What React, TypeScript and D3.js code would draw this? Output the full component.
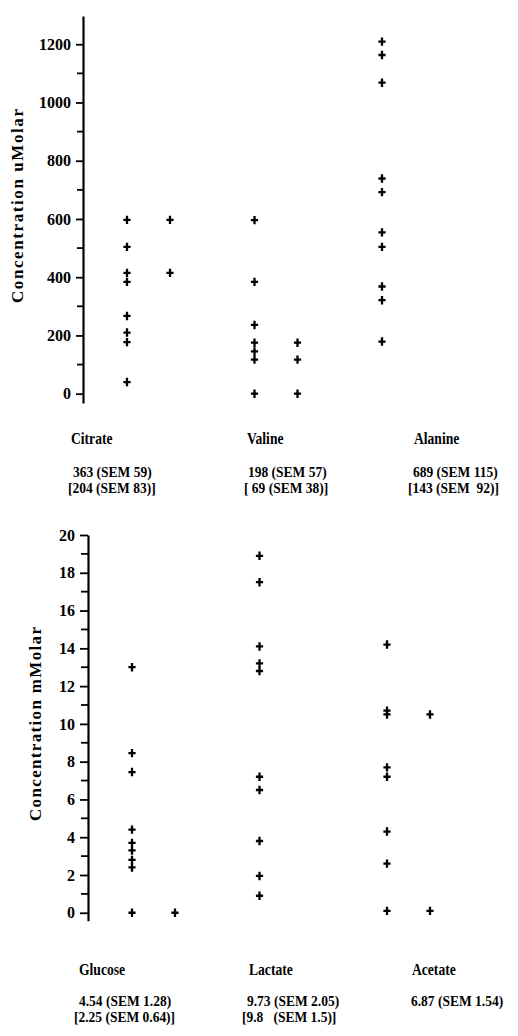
import React, { useEffect, useRef } from 'react';
import * as d3 from 'd3';

// top panel (uMolar)
const topCategories = ['Citrate', 'Valine', 'Alanine'];
const citrateA = [597, 504, 415, 384, 267, 210, 177, 40];
const citrateB = [597, 415];
const valineA = [596, 384, 236, 175, 145, 117, 0];
const valineB = [175, 117, 0];
const alanineA = [1209, 1163, 1068, 739, 692, 554, 504, 368, 321, 179];
const topStats1 = ['363 (SEM 59)', '198 (SEM 57)', '689 (SEM 115)'];
const topStats2 = ['[204 (SEM 83)]', '[ 69 (SEM 38)]', '[143 (SEM  92)]'];
const topTicks = [0, 200, 400, 600, 800, 1000, 1200];
const topMinor = [100, 300, 500, 700, 900, 1100];

// bottom panel (mMolar)
const bottomCategories = ['Glucose', 'Lactate', 'Acetate'];
const glucoseA = [13.0, 8.45, 7.45, 4.4, 3.7, 3.3, 2.8, 2.4, 0];
const glucoseB = [0];
const lactateA = [18.9, 17.5, 14.1, 13.2, 12.8, 7.2, 6.5, 3.8, 1.95, 0.9];
const acetateA = [14.2, 10.7, 10.5, 7.7, 7.2, 4.3, 2.6, 0.1];
const acetateB = [10.5, 0.1];
const bottomStats1 = ['4.54 (SEM 1.28)', '9.73 (SEM 2.05)', '6.87 (SEM 1.54)'];
const bottomStats2 = ['[2.25 (SEM 0.64)]', '[9.8   (SEM 1.5)]', ''];
const bottomTicks = [0, 2, 4, 6, 8, 10, 12, 14, 16, 18, 20];
const bottomMinor = [1, 3, 5, 7, 9, 11, 13, 15, 17, 19];

const FONT = '"Liberation Serif", "DejaVu Serif", serif';

type Panel = {
  axisX: number;
  yDomain: [number, number];
  yRange: [number, number];
  ticks: number[];
  minor: number[];
  tickSize: number;
  title: string;
  titleX: number;
  titleY: number;
  categories: string[];
  colsA: number[][];
  colsB: (number[] | null)[];
  labelX: number[];
  labelY: number;
  stats1: string[];
  stats1X: number[];
  stats2: string[];
  stats2X: number[];
  statsY: number;
};

function drawPanel(svg: d3.Selection<SVGSVGElement, unknown, null, undefined>, p: Panel) {
  const g = svg.append('g');
  const y = d3.scaleLinear().domain(p.yDomain).range(p.yRange);
  const x = d3.scalePoint<string>()
    .domain(p.categories)
    .range([p.axisX + 44, p.axisX + 44 + 255]);
  const subOffset = 43;

  // axis
  const axis = g.append('g')
    .attr('transform', 'translate(' + p.axisX + ',0)')
    .call(d3.axisLeft(y).tickValues(p.ticks).tickSize(p.tickSize).tickSizeOuter(0).tickPadding(5).tickFormat(d3.format('d')));
  axis.select('.domain').attr('stroke-width', 2.2);
  axis.selectAll('.tick line').attr('stroke-width', 1.8);
  axis.selectAll('.tick text')
    .attr('font-family', FONT)
    .attr('font-weight', 'bold')
    .attr('font-size', 16)
    .attr('fill', '#000');

  // minor ticks
  g.append('g').selectAll('line')
    .data(p.minor)
    .enter().append('line')
    .attr('x1', p.axisX - p.tickSize + 1)
    .attr('x2', p.axisX)
    .attr('y1', d => y(d))
    .attr('y2', d => y(d))
    .attr('stroke', '#000')
    .attr('stroke-width', 1.8);

  // y title
  g.append('text')
    .attr('transform', 'translate(' + p.titleX + ',' + p.titleY + ') rotate(-90)')
    .attr('text-anchor', 'middle')
    .attr('font-family', FONT)
    .attr('font-weight', 'bold')
    .attr('font-size', 17)
    .attr('textLength', 194)
    .attr('lengthAdjust', 'spacing')
    .text(p.title);

  // points
  const pts: { cx: number; v: number }[] = [];
  p.categories.forEach((c, i) => {
    p.colsA[i].forEach(v => pts.push({ cx: x(c)!, v }));
    const b = p.colsB[i];
    if (b) b.forEach(v => pts.push({ cx: x(c)! + subOffset, v }));
  });
  g.append('g').selectAll('path')
    .data(pts)
    .enter().append('path')
    .attr('transform', d => 'translate(' + d.cx + ',' + y(d.v) + ')')
    .attr('d', 'M-3.6,0H3.6M0,-4.2V4.2')
    .attr('stroke', '#000')
    .attr('stroke-width', 2.3)
    .attr('fill', 'none');

  // category labels and stats (condensed, like the printer font)
  const txt = (s: string, tx: number, ty: number, size: number, sx: number) =>
    g.append('text')
      .attr('transform', 'translate(' + tx + ',' + ty + ') scale(' + sx + ',1)')
      .attr('font-family', FONT)
      .attr('font-weight', 'bold')
      .attr('font-size', size)
      .attr('xml:space', 'preserve')
      .style('white-space', 'pre')
      .text(s);

  p.categories.forEach((c, i) => {
    txt(c, p.labelX[i], p.labelY, 16, 0.85);
    txt(p.stats1[i], p.stats1X[i], p.statsY, 15, 0.9);
    if (p.stats2[i]) txt(p.stats2[i], p.stats2X[i], p.statsY + 16, 15, 0.9);
  });
}

function Chart() {
  const ref = useRef<SVGSVGElement>(null);

  useEffect(() => {
    const svg = d3.select(ref.current!);
    svg.selectAll('*').remove();

    drawPanel(svg, {
      axisX: 83,
      yDomain: [-32, 1297],
      yRange: [403, 16],
      ticks: topTicks,
      minor: topMinor,
      tickSize: 7,
      title: 'Concentration uMolar',
      titleX: 23,
      titleY: 206,
      categories: topCategories,
      colsA: [citrateA, valineA, alanineA],
      colsB: [citrateB, valineB, null],
      labelX: [71, 247, 414],
      labelY: 444,
      stats1: topStats1,
      stats1X: [73, 248, 413],
      stats2: topStats2,
      stats2X: [68, 244, 408],
      statsY: 477,
    });

    drawPanel(svg, {
      axisX: 88,
      yDomain: [-0.42, 20],
      yRange: [920.7, 535],
      ticks: bottomTicks,
      minor: bottomMinor,
      tickSize: 8,
      title: 'Concentration mMolar',
      titleX: 41,
      titleY: 724,
      categories: bottomCategories,
      colsA: [glucoseA, lactateA, acetateA],
      colsB: [glucoseB, null, acetateB],
      labelX: [79, 249, 412],
      labelY: 975,
      stats1: bottomStats1,
      stats1X: [79, 247, 411],
      stats2: bottomStats2,
      stats2X: [74, 242, 0],
      statsY: 1006,
    });
  }, []);

  return (
    <svg ref={ref} width={518} height={1036}
      style={{ position: 'absolute', left: 0, top: 0, background: '#fff' }} />
  );
}

export default function App() {
  return <Chart />;
}
